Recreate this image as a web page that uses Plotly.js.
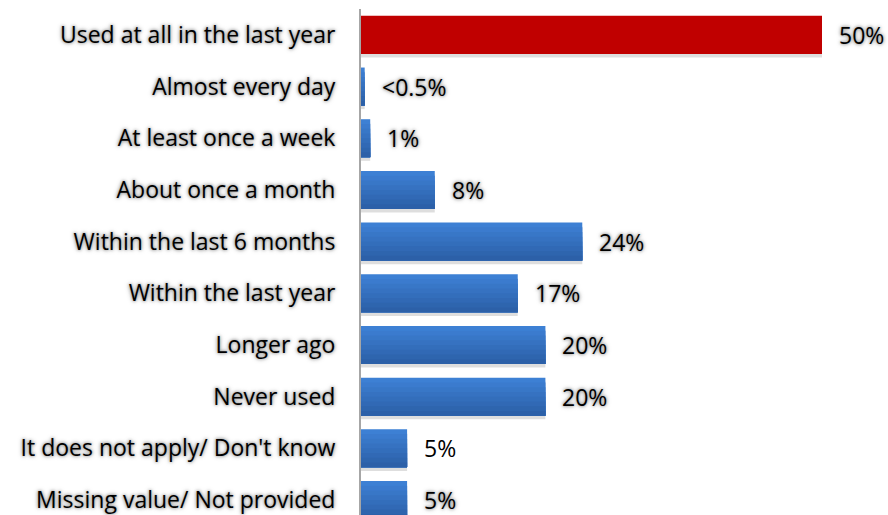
<!DOCTYPE html>
<html>
<head>
<meta charset="utf-8">
<script src="https://cdn.plot.ly/plotly-3.0.1.min.js"></script>
<style>html,body{margin:0;padding:0;background:#fff;}#chart{width:888px;height:515px;}</style>
</head>
<body>
<div id="chart"></div>
<script>
const categories = [
  "Used at all in the last year",
  "Almost every day",
  "At least once a week",
  "About once a month",
  "Within the last 6 months",
  "Within the last year",
  "Longer ago",
  "Never used",
  "It does not apply/ Don't know",
  "Missing value/ Not provided"
];
const values = [50, 0.4, 1, 8, 24, 17, 20, 20, 5, 5];
const valueLabels = ["50%", "<0.5%", "1%", "8%", "24%", "17%", "20%", "20%", "5%", "5%"];
const labelShadowed = [true, true, true, true, true, true, true, true, false, true];

const FONT = "'Open Sans', Lato, sans-serif";
const SHADOW = "0px 0px 3px #8a8a8a, 0px 0px 5px #a0a0a0";
const RED = "#c00000";
const BLUE_TOP = [61, 128, 212];
const BLUE_BOT = [44, 96, 168];

const BAR_W = 0.735;
const BANDS = 8;
const traces = [];

// soft drop shadow below each bar
traces.push({
  type: "bar",
  orientation: "h",
  y: categories,
  x: values,
  width: BAR_W,
  offset: -BAR_W / 2 + 0.07,
  marker: { color: "rgba(0,0,0,0.13)", line: { width: 0 } },
  hoverinfo: "skip"
});

// vertical gradient: stacked layers, each covering from its band to the bar bottom
for (let k = 0; k < BANDS; k++) {
  const t = k / (BANDS - 1);
  const c = BLUE_TOP.map((v, j) => Math.round(v + (BLUE_BOT[j] - v) * t));
  const blue = `rgb(${c[0]},${c[1]},${c[2]})`;
  traces.push({
    type: "bar",
    orientation: "h",
    y: categories,
    x: values,
    width: BAR_W - k * BAR_W / BANDS,
    offset: -BAR_W / 2 + k * BAR_W / BANDS,
    marker: {
      color: categories.map((_, i) => i === 0 ? RED : blue),
      line: { width: 0 }
    },
    hoverinfo: "skip"
  });
}

const annotations = categories.map((c, i) => ({
  x: values[i],
  y: c,
  xref: "x",
  yref: "y",
  text: valueLabels[i],
  showarrow: false,
  xanchor: "left",
  yanchor: "middle",
  xshift: 15,
  font: { family: FONT, size: 23, color: "#000", shadow: labelShadowed[i] ? SHADOW : "none" }
}));

const layout = {
  width: 888,
  height: 515,
  margin: { l: 361, r: 66, t: 9, b: 0, pad: 0 },
  paper_bgcolor: "#fff",
  plot_bgcolor: "#fff",
  showlegend: false,
  barmode: "overlay",
  xaxis: {
    range: [0, 50],
    showgrid: false,
    zeroline: false,
    showline: false,
    showticklabels: false,
    ticks: "",
    fixedrange: true
  },
  yaxis: {
    type: "category",
    range: [9.29, -0.5],
    showgrid: false,
    zeroline: false,
    showline: true,
    linecolor: "#a6a6a6",
    linewidth: 2,
    ticks: "",
    ticklabelstandoff: 19,
    tickfont: { family: FONT, size: 23, color: "#000", shadow: SHADOW },
    fixedrange: true,
    layer: "above traces"
  },
  annotations: annotations
};

Plotly.newPlot("chart", traces, layout, { displayModeBar: false, staticPlot: true });
</script>
</body>
</html>
